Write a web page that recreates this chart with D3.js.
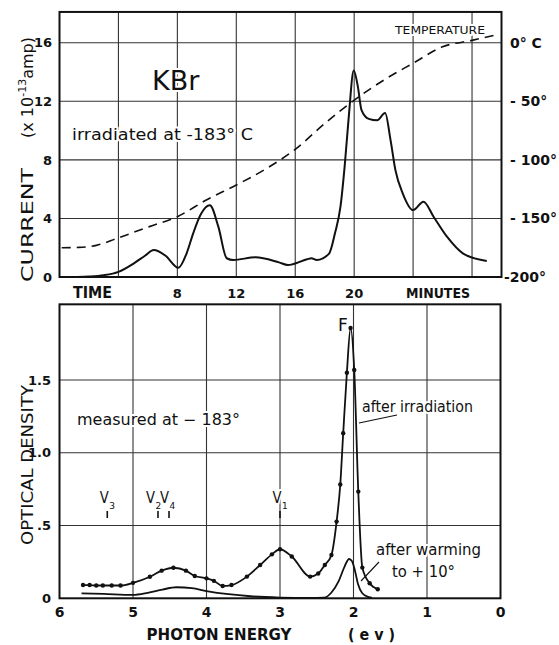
<!DOCTYPE html>
<html>
<head>
<meta charset="utf-8">
<script src="https://cdn.jsdelivr.net/npm/d3@7"></script>
<style>
body { margin: 0; background: white; }
text { font-family: 'DejaVu Sans', sans-serif; fill: #111; }
.halo { stroke: white; stroke-width: 4; stroke-linejoin: round; paint-order: stroke; }
</style>
</head>
<body>
<script>
const width = 559
const height = 645
const ink = '#111'
const grid_color = '#333'

// top panel: current (left) and temperature (right) against time
const time_grid = [4, 8, 12, 16, 20, 24, 28]
const time_ticks = [8, 12, 16, 20]
const current_ticks = [0, 4, 8, 12, 16]
const temp_ticks = [0, -50, -100, -150, -200]
const temp_labels = ['0° C', '- 50°', '- 100°', '- 150°', '-200°']
const current_time = [1.2, 2, 3, 4, 5, 5.8, 6.4, 7.2, 8.07, 8.63, 9.08, 9.6, 10.2, 10.78, 11.35, 11.8, 13.3, 14.9, 15.5, 16.8, 17.1, 17.46, 18.3, 18.7, 19.07, 19.35, 19.63, 19.97, 20.25, 20.5, 20.99, 21.56, 22.1, 22.47, 22.8, 23.3, 24.0, 24.7, 25.4, 26.3, 27.4, 29.0]
const current_value = [0, .03, .12, .35, .9, 1.45, 1.84, 1.45, .63, 1.62, 3.0, 4.3, 4.9, 3.44, 1.28, 1.16, 1.35, 1.0, .82, 1.21, 1.28, 1.16, 1.6, 3.0, 4.8, 7.5, 10.9, 14.1, 13.0, 11.4, 10.8, 10.7, 11.2, 9.35, 7.3, 5.7, 4.57, 5.14, 4.1, 2.75, 1.6, 1.1]
const temp_time = [0.15, 1.3, 2.5, 3.9, 6.1, 8.0, 10.0, 12.0, 14.1, 16.0, 18.0, 19.9, 22.0, 24.0, 26.0, 28.0, 29.6]
const temp_value = [-175, -174.7, -173, -167, -157, -148.5, -134, -121.5, -107, -91, -69, -50, -32, -17.5, -3.5, 2, 6.5]

// bottom panel: optical density against photon energy
const energy_grid = [5, 4, 3, 2, 1]
const energy_ticks = [6, 5, 4, 3, 2, 1, 0]
const density_grid = [.5, 1.0, 1.5]
const density_ticks = [0, .5, 1.0, 1.5]
const density_labels = ['0', '.5', '1.0', '1.5']
const irr_energy = [5.68, 5.59, 5.50, 5.41, 5.29, 5.17, 5.00, 4.77, 4.61, 4.45, 4.28, 4.16, 4.00, 3.90, 3.78, 3.66, 3.45, 3.27, 3.11, 3.00, 2.84, 2.59, 2.48, 2.39, 2.30, 2.23, 2.18, 2.14, 2.09, 2.04, 1.99, 1.935, 1.88, 1.78, 1.67]
const irr_density = [.091, .091, .088, .088, .088, .088, .106, .148, .19, .21, .19, .153, .137, .12, .085, .091, .149, .229, .302, .337, .287, .149, .17, .229, .298, .527, .782, 1.134, 1.55, 1.857, 1.569, .733, .211, .103, .062]
const warm_energy = [5.70, 5.40, 5.00, 4.80, 4.60, 4.41, 4.20, 4.00, 3.70, 3.40, 3.00, 2.60, 2.40, 2.30, 2.20, 2.12, 2.06, 2.02, 1.98, 1.94, 1.88, 1.80, 1.75]
const warm_density = [.034, .03, .024, .038, .06, .076, .07, .05, .028, .014, .005, .002, .004, .04, .12, .22, .27, .255, .19, .1, .035, .01, .004]
const band_names = ['3', '2', '4', '1']
const band_energy = [5.35, 4.66, 4.51, 3.0]
const band_shift = [-3, -7.5, -4.5, -3]

const x_time = d3.scaleLinear().domain([0, 30]).range([59.5, 501.5])
const y_current = d3.scaleLinear().domain([0, 16]).range([277, 42.7])
const y_temp = d3.scaleLinear().domain([-200, 0]).range([277, 42.7])
const x_energy = d3.scaleLinear().domain([6, 0]).range([59.5, 500.5])
const y_density = d3.scaleLinear().domain([0, 1.5]).range([598.3, 380])

function makeCanvas() {
    return d3.select('body')
        .append('svg')
        .attr('width', width)
        .attr('height', height)
        .style('background', 'white')
}

function label(g, x, y, str, size, opts = {}) {
    let t = g.append('text')
        .attr('x', x)
        .attr('y', y)
        .attr('font-size', size)
        .attr('text-anchor', opts.anchor || 'start')
        .attr('font-weight', opts.bold ? 'bold' : 'normal')
        .text(str)
    if (opts.len) t.attr('textLength', opts.len).attr('lengthAdjust', 'spacingAndGlyphs')
    if (opts.halo) t.attr('class', 'halo')
    if (opts.rotate) t.attr('transform', `rotate(-90, ${x}, ${y})`)
    return t
}

function drawTop(svg) {
    let g = svg.append('g')
    let x0 = x_time(0), x1 = x_time(30), yb = y_current(0), yt = y_current(18.1)

    g.selectAll('.vgrid').data(time_grid).enter()
        .append('line')
        .attr('x1', d => x_time(d)).attr('x2', d => x_time(d))
        .attr('y1', yt).attr('y2', yb)
        .attr('stroke', grid_color).attr('stroke-width', 1.1)
    g.selectAll('.hgrid').data(current_ticks.slice(1)).enter()
        .append('line')
        .attr('x1', x0).attr('x2', x1)
        .attr('y1', d => y_current(d)).attr('y2', d => y_current(d))
        .attr('stroke', grid_color).attr('stroke-width', 1.1)

    // in-plot text sits on white so the grid breaks behind it
    label(g, 152, 90, 'KBr', 27)
        .attr('class', 'halo')
    label(g, 72, 140, 'irradiated  at  -183° C', 15, {len: 181, halo: true})
    label(g, 395, 34, 'TEMPERATURE', 11, {len: 90, halo: true})

    let temp_line = d3.line()
        .x((d, i) => x_time(temp_time[i]))
        .y(d => y_temp(d))
        .curve(d3.curveMonotoneX)
    g.append('path')
        .attr('d', temp_line(temp_value))
        .attr('fill', 'none').attr('stroke', ink)
        .attr('stroke-width', 1.6).attr('stroke-dasharray', '9,6')

    let cur_line = d3.line()
        .x((d, i) => x_time(current_time[i]))
        .y(d => y_current(d))
        .curve(d3.curveMonotoneX)
    g.append('path')
        .attr('d', cur_line(current_value))
        .attr('fill', 'none').attr('stroke', ink).attr('stroke-width', 2)

    g.append('rect')
        .attr('x', x0).attr('y', yt)
        .attr('width', x1 - x0).attr('height', yb - yt)
        .attr('fill', 'none').attr('stroke', ink).attr('stroke-width', 2)

    current_ticks.forEach(d => {
        label(g, 52, y_current(d), String(d), 13, {anchor: 'end', bold: true}).attr('dy', '0.36em')
    })
    time_ticks.forEach(d => {
        label(g, x_time(d), 293, String(d), 13, {anchor: 'middle', bold: true}).attr('dy', '0.36em')
    })
    label(g, 92.5, 293, 'TIME', 15, {anchor: 'middle', bold: true, len: 39}).attr('dy', '0.36em')
    label(g, 438, 293, 'MINUTES', 14, {anchor: 'middle', bold: true, len: 64}).attr('dy', '0.36em')

    temp_ticks.forEach((d, i) => {
        label(g, i == 4 ? 504 : 510, y_temp(d), temp_labels[i], 14, {bold: true}).attr('dy', '0.36em')
    })

    label(g, 27, 225, 'CURRENT', 16, {anchor: 'middle', rotate: true, len: 114}).attr('dy', '0.36em')
    let unit = label(g, 27, 87.5, '(x 10', 16, {anchor: 'middle', rotate: true}).attr('dy', '0.36em')
    unit.append('tspan').attr('dy', -7).attr('font-size', 11).text('-13')
    unit.append('tspan').attr('dy', 7).text('amp)')
}

function drawBottom(svg) {
    let g = svg.append('g')
    let x0 = x_energy(6), x1 = x_energy(0), yb = y_density(0), yt = y_density(2.02)

    g.selectAll('.vgrid').data(energy_grid).enter()
        .append('line')
        .attr('x1', d => x_energy(d)).attr('x2', d => x_energy(d))
        .attr('y1', yt).attr('y2', yb)
        .attr('stroke', grid_color).attr('stroke-width', 1.1)
    g.selectAll('.hgrid').data(density_grid).enter()
        .append('line')
        .attr('x1', x0).attr('x2', x1)
        .attr('y1', d => y_density(d)).attr('y2', d => y_density(d))
        .attr('stroke', grid_color).attr('stroke-width', 1.1)

    label(g, 77, 425, 'measured  at  − 183°', 15, {len: 163, halo: true})
    label(g, 362, 412, 'after irradiation', 15, {len: 111, halo: true})
    label(g, 376, 555, 'after  warming', 15, {len: 105, halo: true})
    label(g, 392, 577, 'to  +  10°', 15, {len: 63, halo: true})
    label(g, 338, 331, 'F', 17, {halo: true})

    // band markers: a V with its subscript beside it, and a short tick below
    band_names.forEach((b, i) => {
        let x = x_energy(band_energy[i]) + band_shift[i]
        label(g, x, 503, 'V', 16, {anchor: 'middle', halo: true, len: 9})
        label(g, x + 5, 509, b, 9, {halo: true})
        g.append('line')
            .attr('x1', x_energy(band_energy[i])).attr('x2', x_energy(band_energy[i]))
            .attr('y1', 511).attr('y2', 518)
            .attr('stroke', ink).attr('stroke-width', 1.6)
    })

    g.append('line').attr('x1', 359).attr('y1', 423).attr('x2', 397).attr('y2', 415)
        .attr('stroke', ink).attr('stroke-width', 1.1)
    g.append('line').attr('x1', 361).attr('y1', 581).attr('x2', 379).attr('y2', 562)
        .attr('stroke', ink).attr('stroke-width', 1.1)

    let warm_line = d3.line()
        .x((d, i) => x_energy(warm_energy[i]))
        .y(d => y_density(d))
        .curve(d3.curveMonotoneX)
    g.append('path')
        .attr('d', warm_line(warm_density))
        .attr('fill', 'none').attr('stroke', ink).attr('stroke-width', 1.8)

    let irr_line = d3.line()
        .x((d, i) => x_energy(irr_energy[i]))
        .y(d => y_density(d))
        .curve(d3.curveMonotoneX)
    g.append('path')
        .attr('d', irr_line(irr_density))
        .attr('fill', 'none').attr('stroke', ink).attr('stroke-width', 1.8)
    g.selectAll('.dot').data(irr_density).enter()
        .append('circle')
        .attr('cx', (d, i) => x_energy(irr_energy[i]))
        .attr('cy', d => y_density(d))
        .attr('r', 2.2)
        .attr('fill', ink)

    g.append('rect')
        .attr('x', x0).attr('y', yt)
        .attr('width', x1 - x0).attr('height', yb - yt)
        .attr('fill', 'none').attr('stroke', ink).attr('stroke-width', 2)

    density_ticks.forEach((d, i) => {
        label(g, 51, y_density(d), density_labels[i], 13, {anchor: 'end', bold: true}).attr('dy', '0.36em')
    })
    energy_ticks.forEach(d => {
        label(g, x_energy(d), 612, String(d), 14, {anchor: 'middle', bold: true}).attr('dy', '0.36em')
    })
    label(g, 219, 635, 'PHOTON ENERGY', 15, {anchor: 'middle', bold: true, len: 145}).attr('dy', '0.36em')
    label(g, 371.5, 635, '( e v )', 15, {anchor: 'middle', bold: true, len: 47}).attr('dy', '0.36em')
    label(g, 27, 465, 'OPTICAL  DENSITY', 16, {anchor: 'middle', rotate: true, len: 160}).attr('dy', '0.36em')
}

window.onload = function() {
    let svg = makeCanvas()
    drawTop(svg)
    drawBottom(svg)
}
</script>
</body>
</html>
